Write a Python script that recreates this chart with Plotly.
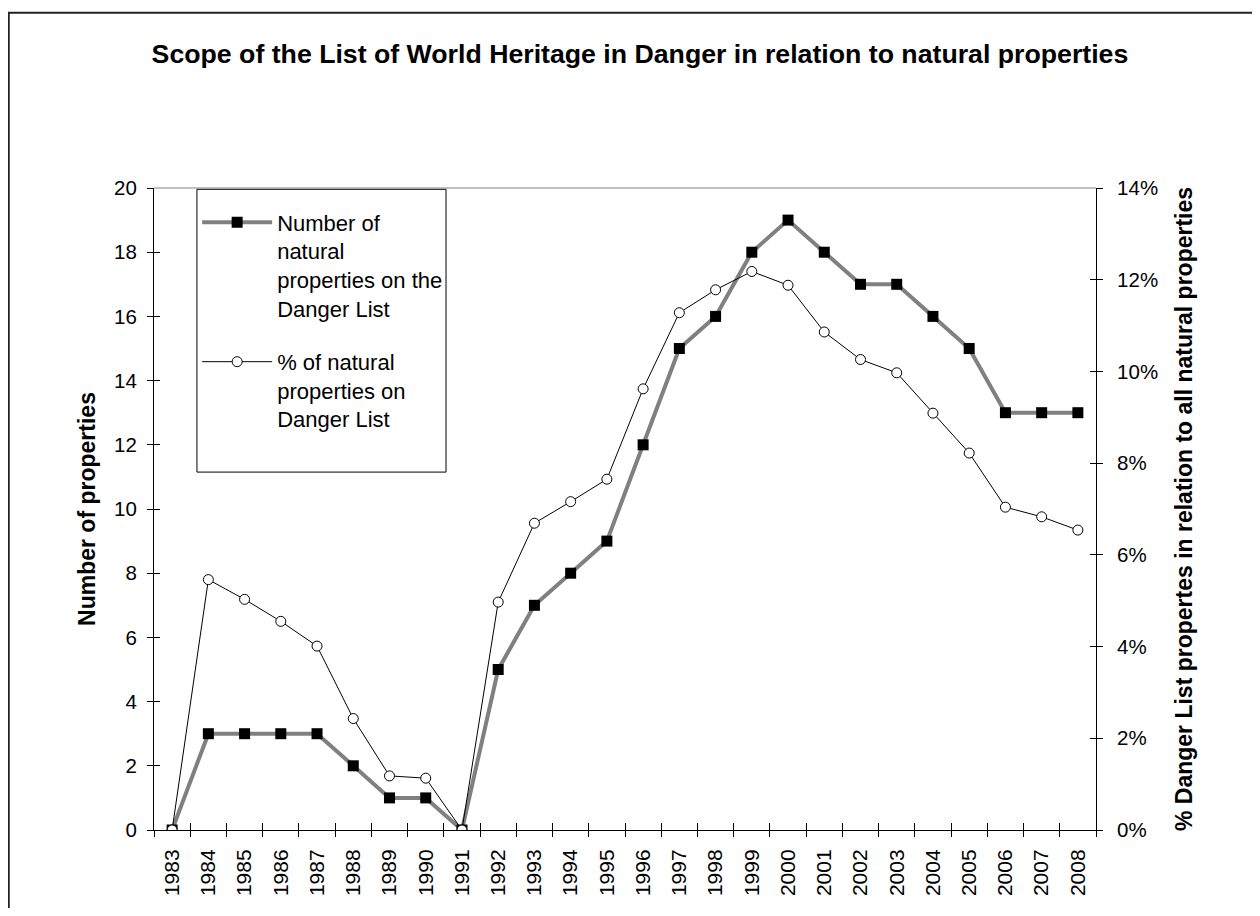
import plotly.graph_objects as go

years = [str(y) for y in range(1983, 2009)]
num_props = [0, 3, 3, 3, 3, 2, 1, 1, 0, 5, 7, 8, 9, 12, 15, 16, 18, 19, 18, 17, 17, 16, 15, 13, 13, 13]
pct_props = [0.0, 5.46, 5.03, 4.55, 4.01, 2.43, 1.18, 1.13, 0.0, 4.97, 6.69, 7.16, 7.65, 9.62,
             11.28, 11.78, 12.18, 11.88, 10.86, 10.26, 9.97, 9.09, 8.22, 7.04, 6.83, 6.54]
pct_frac = [v / 100 for v in pct_props]

FONT = "Liberation Sans, Arial, sans-serif"

fig = go.Figure()
fig.add_trace(go.Scatter(
    x=years, y=num_props, mode="lines+markers",
    name="Number of<br>natural<br>properties on the<br>Danger List",
    legendgroup="a",
    line=dict(color="#808080", width=4),
    marker=dict(symbol="square", size=11, color="black", line=dict(width=0)),
    yaxis="y", xaxis="x",
))
fig.add_trace(go.Scatter(
    x=years, y=pct_frac, mode="lines+markers",
    name="% of natural<br>properties on<br>Danger List",
    legendgroup="b",
    line=dict(color="black", width=1),
    marker=dict(symbol="circle", size=10, color="white", line=dict(color="black", width=1)),
    yaxis="y2", xaxis="x",
))

fig.update_layout(
    width=1244, height=900,
    margin=dict(l=146, r=156, t=180, b=76),
    paper_bgcolor="white", plot_bgcolor="white",
    font=dict(family=FONT, size=20, color="black"),
    title=dict(text="<b>Scope of the List of World Heritage in Danger in relation to natural properties</b>",
               x=0.508, xanchor="center", y=0.949, yanchor="middle",
               font=dict(family=FONT, size=26.7, color="black")),
    xaxis=dict(type="category", categoryorder="array", categoryarray=years,
               range=[-0.5, 25.5], tickangle=-90, tickson="boundaries",
               ticks="outside", ticklen=6, tickcolor="black", tickwidth=1,
               ticklabelstandoff=10,
               showline=True, linecolor="black", linewidth=1, showgrid=False, zeroline=False,
               tickfont=dict(size=21)),
    xaxis2=dict(overlaying="x", range=[-0.5, 25.5], tick0=-0.5, dtick=1,
                ticks="inside", ticklen=7, tickcolor="black", tickwidth=1,
                showticklabels=False, showgrid=False, zeroline=False, showline=False,
                side="bottom", anchor="y"),
    yaxis=dict(range=[0, 20], dtick=2, ticks="outside", ticklen=6, tickcolor="black",
               ticklabelstandoff=6,
               showline=True, linecolor="black", linewidth=1, showgrid=False, zeroline=False,
               title=dict(text="<b>Number of properties</b>", standoff=12, font=dict(size=23)),
               tickfont=dict(size=20.5)),
    yaxis2=dict(range=[0, 0.14], dtick=0.02, tickformat=".0%", overlaying="y", side="right",
                ticks="outside", ticklen=6, tickcolor="black",
                ticklabelstandoff=10,
                showline=True, linecolor="black", linewidth=1, showgrid=False, zeroline=False,
                title=dict(text="<b>% Danger List propertes in relation to all natural properties</b>",
                           standoff=18, font=dict(size=23)),
                tickfont=dict(size=20.5)),
    yaxis3=dict(range=[0, 20], dtick=2, overlaying="y", side="left", anchor="x",
                ticks="inside", ticklen=6, tickcolor="black", showticklabels=False,
                showgrid=False, zeroline=False, showline=False),
    yaxis4=dict(range=[0, 0.14], dtick=0.02, overlaying="y", side="right", anchor="x",
                ticks="inside", ticklen=6, tickcolor="black", showticklabels=False,
                showgrid=False, zeroline=False, showline=False),
    legend=dict(x=0.0458, y=0.979, xanchor="left", yanchor="top",
                bgcolor="rgba(0,0,0,0)", borderwidth=0, valign="top",
                traceorder="grouped", tracegroupgap=22, itemwidth=70,
                font=dict(size=22)),
    showlegend=True,
    shapes=[
        dict(type="rect", xref="paper", yref="paper", x0=0.0456, x1=0.31, y0=0.5575, y1=0.998,
             line=dict(color="black", width=1), fillcolor="rgba(0,0,0,0)", layer="below"),
        dict(type="line", xref="paper", yref="paper", x0=0, x1=1, y0=1, y1=1,
             line=dict(color="#808080", width=1)),
        dict(type="rect", xref="paper", yref="paper", x0=-0.1542, x1=1.2, y0=-0.2, y1=1.273,
             line=dict(color="#222222", width=2), fillcolor="rgba(0,0,0,0)"),
    ],
)

# invisible helper traces so the overlay tick axes are drawn (cross-style tick marks)
fig.add_trace(go.Scatter(x=[0], y=[0], xaxis="x2", yaxis="y3", mode="markers",
                         marker=dict(opacity=0), showlegend=False, hoverinfo="skip"))
fig.add_trace(go.Scatter(x=[0], y=[0], xaxis="x2", yaxis="y4", mode="markers",
                         marker=dict(opacity=0), showlegend=False, hoverinfo="skip"))

fig.write_html("out.html")
